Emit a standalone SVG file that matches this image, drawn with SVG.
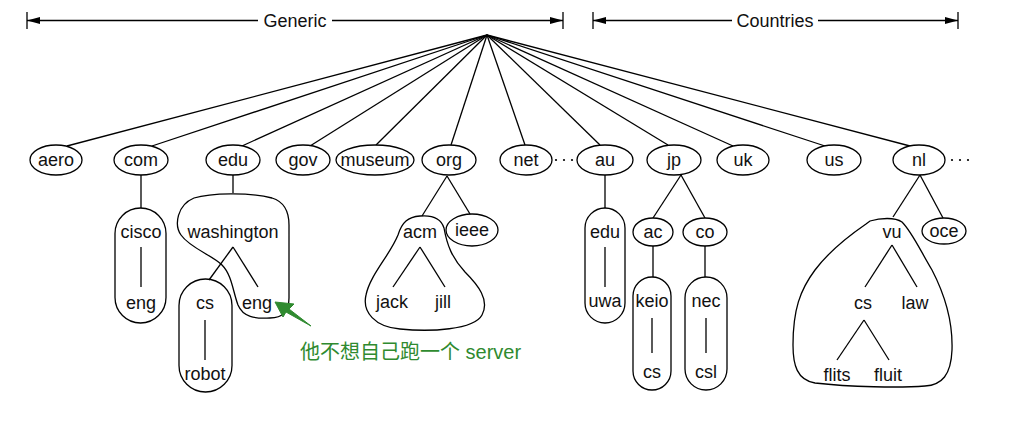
<svg xmlns="http://www.w3.org/2000/svg" width="1010" height="434" viewBox="0 0 1010 434">
<style>
.e{fill:#fff;stroke:#000;stroke-width:1.3}
.b{fill:none;stroke:#000;stroke-width:1.3}
.l{stroke:#000;stroke-width:1.3;fill:none}
.t{font-family:"Liberation Sans",Arial,sans-serif;font-size:18px;fill:#111;text-anchor:middle}
.h{font-family:"Liberation Sans",Arial,sans-serif;font-size:18px;fill:#111;text-anchor:middle}
.g{font-family:"Liberation Sans","Noto Sans CJK SC",sans-serif;font-size:20px;fill:#2f8a2f}
</style>
<defs>
<marker id="ah" markerUnits="userSpaceOnUse" markerWidth="13" markerHeight="8" refX="13" refY="4" orient="auto">
<path d="M0,0.5 L13,4 L0,7.5 z" fill="#000"/>
</marker>
</defs>
<g id="headers">
<line class="l" x1="27" y1="12" x2="27" y2="29"/>
<line class="l" x1="563" y1="12" x2="563" y2="29"/>
<line class="l" x1="258" y1="20.5" x2="27" y2="20.5" marker-end="url(#ah)"/>
<line class="l" x1="332" y1="20.5" x2="563" y2="20.5" marker-end="url(#ah)"/>
<text class="h" x="295" y="27">Generic</text>
<line class="l" x1="593" y1="12" x2="593" y2="29"/>
<line class="l" x1="958" y1="12" x2="958" y2="29"/>
<line class="l" x1="732" y1="20.5" x2="593" y2="20.5" marker-end="url(#ah)"/>
<line class="l" x1="818" y1="20.5" x2="958" y2="20.5" marker-end="url(#ah)"/>
<text class="h" x="775" y="27">Countries</text>
</g>
<g id="connectors">
<line class="l" x1="487" y1="35" x2="67" y2="146"/>
<line class="l" x1="487" y1="35" x2="152" y2="146"/>
<line class="l" x1="487" y1="35" x2="242" y2="146"/>
<line class="l" x1="487" y1="35" x2="310" y2="146"/>
<line class="l" x1="487" y1="35" x2="376" y2="145"/>
<line class="l" x1="487" y1="35" x2="451" y2="145"/>
<line class="l" x1="487" y1="35" x2="525" y2="145"/>
<line class="l" x1="487" y1="35" x2="600" y2="145"/>
<line class="l" x1="487" y1="35" x2="668" y2="145"/>
<line class="l" x1="487" y1="35" x2="733" y2="146"/>
<line class="l" x1="487" y1="35" x2="825" y2="146"/>
<line class="l" x1="487" y1="35" x2="910" y2="146"/>
<line class="l" x1="141" y1="175" x2="141" y2="208"/>
<line class="l" x1="141" y1="247" x2="141" y2="287"/>
<line class="l" x1="233" y1="175" x2="233" y2="193"/>
<line class="l" x1="233" y1="247" x2="209" y2="280"/>
<line class="l" x1="233" y1="247" x2="258" y2="287"/>
<line class="l" x1="205" y1="320" x2="205" y2="360"/>
<line class="l" x1="447" y1="176" x2="422" y2="216"/>
<line class="l" x1="447" y1="176" x2="470" y2="214"/>
<line class="l" x1="420" y1="247" x2="393" y2="287"/>
<line class="l" x1="420" y1="247" x2="445" y2="287"/>
<line class="l" x1="605" y1="175" x2="605" y2="208"/>
<line class="l" x1="605" y1="247" x2="605" y2="287"/>
<line class="l" x1="681" y1="175" x2="653" y2="218"/>
<line class="l" x1="681" y1="175" x2="705" y2="218"/>
<line class="l" x1="653" y1="246" x2="653" y2="277"/>
<line class="l" x1="705" y1="246" x2="705" y2="277"/>
<line class="l" x1="652" y1="318" x2="652" y2="353"/>
<line class="l" x1="706" y1="318" x2="706" y2="353"/>
<line class="l" x1="920" y1="175" x2="893" y2="217"/>
<line class="l" x1="920" y1="175" x2="943" y2="218"/>
<line class="l" x1="892" y1="245" x2="865" y2="287"/>
<line class="l" x1="892" y1="245" x2="917" y2="287"/>
<line class="l" x1="864" y1="320" x2="837" y2="360"/>
<line class="l" x1="864" y1="320" x2="889" y2="360"/>
</g>
<g id="dots" fill="#000">
<circle cx="556" cy="160" r="1.1"/><circle cx="564" cy="160" r="1.1"/><circle cx="572" cy="160" r="1.1"/>
<circle cx="952" cy="160" r="1.1"/><circle cx="960" cy="160" r="1.1"/><circle cx="968" cy="160" r="1.1"/>
</g>
<g id="aero"><ellipse class="e" cx="56" cy="160" rx="26" ry="15"/><text class="t" x="56" y="166">aero</text></g>
<g id="com"><ellipse class="e" cx="141" cy="160" rx="27" ry="15"/><text class="t" x="141" y="166">com</text></g>
<g id="edu"><ellipse class="e" cx="233" cy="160" rx="27" ry="15"/><text class="t" x="233" y="166">edu</text></g>
<g id="gov"><ellipse class="e" cx="303" cy="160" rx="27" ry="15"/><text class="t" x="303" y="166">gov</text></g>
<g id="museum"><ellipse class="e" cx="375" cy="160" rx="39" ry="15"/><text class="t" x="375" y="166">museum</text></g>
<g id="org"><ellipse class="e" cx="449" cy="160" rx="27" ry="15"/><text class="t" x="449" y="166">org</text></g>
<g id="net"><ellipse class="e" cx="526" cy="160" rx="26" ry="15"/><text class="t" x="526" y="166">net</text></g>
<g id="au"><ellipse class="e" cx="605" cy="160" rx="28" ry="15"/><text class="t" x="605" y="166">au</text></g>
<g id="jp"><ellipse class="e" cx="674" cy="160" rx="27" ry="15"/><text class="t" x="674" y="166">jp</text></g>
<g id="uk"><ellipse class="e" cx="743" cy="160" rx="26" ry="15"/><text class="t" x="743" y="166">uk</text></g>
<g id="us"><ellipse class="e" cx="834" cy="160" rx="27" ry="15"/><text class="t" x="834" y="166">us</text></g>
<g id="nl"><ellipse class="e" cx="919" cy="160" rx="26" ry="15"/><text class="t" x="919" y="166">nl</text></g>
<g id="cisco-zone"><rect class="b" x="115" y="208" width="51" height="115" rx="25.5"/><text class="t" x="141" y="238">cisco</text><text class="t" x="141" y="309">eng</text></g>
<g id="washington-zone"><path class="b" d="M181,235 C174,225 177,205 194,198 C210,193 250,192 272,198 C285,202 289,212 289,225 L289,298 C289,310 283,318 270,318 C255,319 243,317 238,305 C233,292 232,275 222,265 C212,255 190,248 181,235 Z"/><text class="t" x="233" y="238">washington</text><text class="t" x="257" y="309">eng</text></g>
<g id="cs-zone"><rect class="b" x="179" y="279" width="53" height="113" rx="26.5"/><text class="t" x="205" y="309">cs</text><text class="t" x="205" y="380">robot</text></g>
<g id="acm-zone"><path class="b" d="M420,216 C432,215 441,218 444,228 C447,245 452,258 465,272 C478,285 490,300 482,315 C474,330 430,332 400,329 C375,327 362,312 366,295 C370,275 390,255 398,235 C402,222 408,217 420,216 Z"/><text class="t" x="420" y="238">acm</text><text class="t" x="392" y="308">jack</text><text class="t" x="443" y="308">jill</text></g>
<g id="ieee"><ellipse class="e" cx="472" cy="230" rx="26" ry="16"/><text class="t" x="472" y="236">ieee</text></g>
<g id="au-edu-zone"><rect class="b" x="585" y="208" width="40" height="115" rx="20"/><text class="t" x="605" y="238">edu</text><text class="t" x="605" y="307">uwa</text></g>
<g id="ac"><ellipse class="e" cx="653" cy="232" rx="20" ry="14"/><text class="t" x="653" y="238">ac</text></g>
<g id="co"><ellipse class="e" cx="705" cy="232" rx="22" ry="14"/><text class="t" x="705" y="238">co</text></g>
<g id="keio-zone"><rect class="b" x="633" y="277" width="38" height="113" rx="19"/><text class="t" x="652" y="307">keio</text><text class="t" x="652" y="378">cs</text></g>
<g id="nec-zone"><rect class="b" x="685" y="277" width="42" height="113" rx="21"/><text class="t" x="706" y="307">nec</text><text class="t" x="706" y="378">csl</text></g>
<g id="oce"><ellipse class="e" cx="944" cy="231" rx="22" ry="13"/><text class="t" x="944" y="237">oce</text></g>
<g id="vu-zone"><path class="b" d="M866,224 L870,221 C880,218 895,217 902,222 C912,232 920,250 932,270 C945,295 953,320 952,350 C951,375 942,385 925,386 C900,388 850,387 815,383 C797,380 793,365 793,345 C793,310 800,290 815,270 C830,250 850,235 866,224 Z"/><text class="t" x="892" y="238">vu</text><text class="t" x="863" y="309">cs</text><text class="t" x="915" y="309">law</text><text class="t" x="837" y="381">flits</text><text class="t" x="888" y="381">fluit</text></g>
<g id="annotation">
<polygon points="275,302 294,304 289,309 311,326 286,312 283,317" fill="#2f8a2f" stroke="#2f8a2f" stroke-width="1" stroke-linejoin="round"/>
<text class="g" x="300" y="359">他不想自己跑一个 server</text>
</g>
</svg>
